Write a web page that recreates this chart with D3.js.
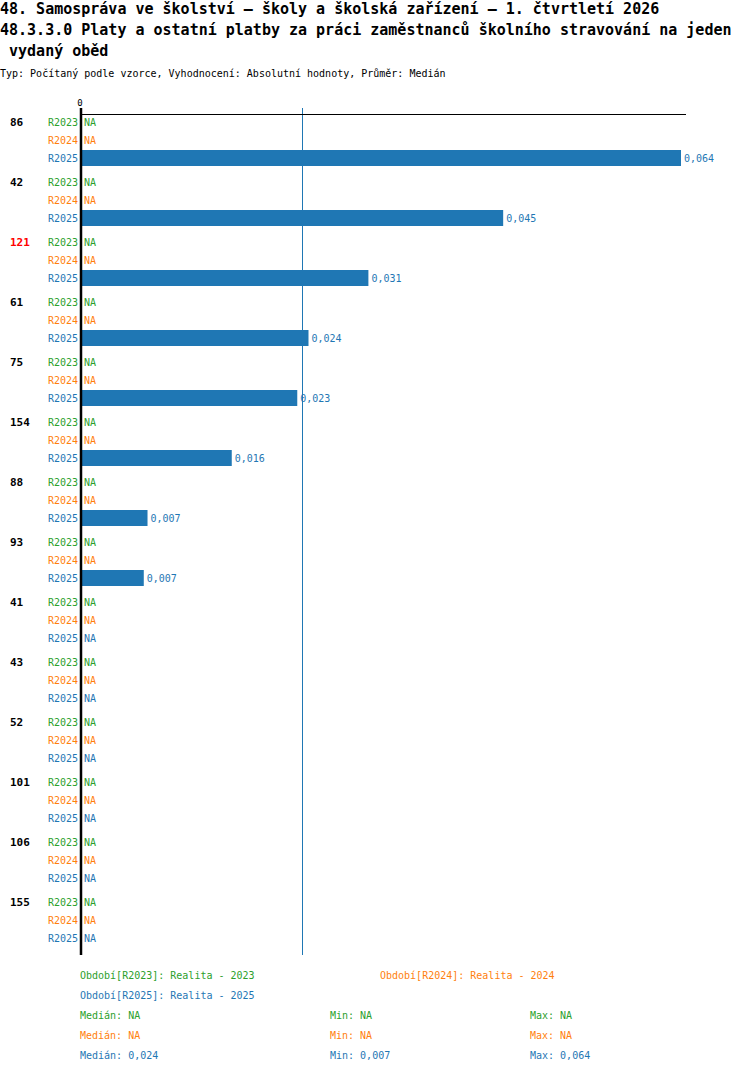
<!DOCTYPE html>
<html>
<head>
<meta charset="utf-8">
<script src="https://cdn.jsdelivr.net/npm/d3@7"></script>
<style>
  body { margin: 0; background: #fff; }
  text { font-family: "DejaVu Sans Mono", monospace; }
</style>
</head>
<body>
<svg id="chart" width="750" height="1074"></svg>
<script>
// data
var groups = ["86", "42", "121", "61", "75", "154", "88", "93", "41", "43", "52", "101", "106", "155"];
var highlighted = ["121"];
var series = ["R2023", "R2024", "R2025"];
var seriesNames = ["Realita - 2023", "Realita - 2024", "Realita - 2025"];
var valuesR2023 = [null, null, null, null, null, null, null, null, null, null, null, null, null, null];
var valuesR2024 = [null, null, null, null, null, null, null, null, null, null, null, null, null, null];
var valuesR2025 = [0.064, 0.045, 0.0306, 0.0242, 0.0230, 0.016, 0.007, 0.0066, null, null, null, null, null, null];
var colors = ["#2ca02c", "#ff7f0e", "#1f77b4"];

var titleLines = [
  "48. Samospráva ve školství – školy a školská zařízení – 1. čtvrtletí 2026",
  "48.3.3.0 Platy a ostatní platby za práci zaměstnanců školního stravování na jeden",
  " vydaný oběd"
];
var subtitle = "Typ: Počítaný podle vzorce, Vyhodnocení: Absolutní hodnoty, Průměr: Medián";

var allValues = [valuesR2023, valuesR2024, valuesR2025];
var loc = d3.formatLocale({decimal: ",", thousands: " ", grouping: [3], currency: ["", ""]});
var fmt = loc.format(".3f");
function txt(v) { return v == null ? "NA" : fmt(v); }

var svg = d3.select("#chart");

// titles
svg.selectAll("text.title").data(titleLines).enter().append("text")
  .attr("class", "title")
  .attr("x", 0)
  .attr("y", function (d, i) { return 9 + i * 21; })
  .attr("dy", "0.35em")
  .style("font-size", "15px")
  .style("font-weight", "bold")
  .style("white-space", "pre")
  .attr("xml:space", "preserve")
  .text(function (d) { return d; });

svg.append("text")
  .attr("x", 0).attr("y", 73).attr("dy", "0.35em")
  .style("font-size", "10px")
  .text(subtitle);

// scales
var max = d3.max(valuesR2025);
var x = d3.scaleLinear().domain([0, max]).range([82, 681]);
var y = d3.scaleBand().domain(groups).range([113, 113 + groups.length * 60]);
var ys = d3.scaleBand().domain(series).range([0, 54]);

// median line
var present = valuesR2025.filter(function (v) { return v != null; });
var med = d3.median(present);
svg.append("line")
  .attr("x1", x(med)).attr("x2", x(med))
  .attr("y1", 108).attr("y2", 955)
  .attr("stroke", "#1f77b4").attr("stroke-width", 1).attr("shape-rendering", "crispEdges");

// top line and zero tick
svg.append("line")
  .attr("x1", 80).attr("x2", 686).attr("y1", 114.5).attr("y2", 114.5)
  .attr("stroke", "#000").attr("stroke-width", 1).attr("shape-rendering", "crispEdges");
svg.append("text")
  .attr("x", x(0) - 2).attr("y", 103).attr("dy", "0.35em")
  .attr("text-anchor", "middle")
  .style("font-size", "9px")
  .text("0");

// groups
var g = svg.selectAll("g.grp").data(groups).enter().append("g")
  .attr("class", "grp")
  .attr("transform", function (d) { return "translate(0," + y(d) + ")"; });

g.append("text")
  .attr("x", 10)
  .attr("y", ys("R2023") + ys.bandwidth() / 2)
  .attr("dy", "0.35em")
  .style("font-size", "11px")
  .style("font-weight", "bold")
  .attr("fill", function (d) { return highlighted.indexOf(d) >= 0 ? "#ff0000" : "#000"; })
  .text(function (d) { return d; });

series.forEach(function (s, si) {
  var vals = allValues[si];
  var cy = ys(s) + ys.bandwidth() / 2;

  g.append("text")
    .attr("x", 78).attr("y", cy).attr("dy", "0.35em")
    .attr("text-anchor", "end")
    .style("font-size", "10px")
    .attr("fill", colors[si])
    .text(s);

  g.filter(function (d, i) { return vals[i] != null; })
    .append("rect")
    .attr("x", x(0))
    .attr("y", cy - 8)
    .attr("height", 16)
    .attr("width", function (d) { return x(vals[groups.indexOf(d)]) - x(0); })
    .attr("fill", colors[si]);

  g.append("text")
    .attr("x", function (d, i) { return vals[i] == null ? 84 : x(vals[i]) + 3; })
    .attr("y", cy).attr("dy", "0.35em")
    .style("font-size", "10px")
    .attr("fill", colors[si])
    .text(function (d, i) { return txt(vals[i]); });
});

// axis line
svg.append("line")
  .attr("x1", 81).attr("x2", 81).attr("y1", 108).attr("y2", 955)
  .attr("stroke", "#000").attr("stroke-width", 2.5);

// legend
var legendPos = [[80, 975], [380, 975], [80, 995]];
series.forEach(function (s, si) {
  svg.append("text")
    .attr("x", legendPos[si][0]).attr("y", legendPos[si][1]).attr("dy", "0.35em")
    .style("font-size", "10px")
    .attr("fill", colors[si])
    .text("Období[" + s + "]: " + seriesNames[si]);
});

// statistics
series.forEach(function (s, si) {
  var vals = allValues[si].filter(function (v) { return v != null; });
  var sy = 1015 + si * 20;
  var stats = [
    ["Medián: ", vals.length ? d3.median(vals) : null, 80],
    ["Min: ", vals.length ? d3.min(vals) : null, 330],
    ["Max: ", vals.length ? d3.max(vals) : null, 530]
  ];
  stats.forEach(function (st) {
    svg.append("text")
      .attr("x", st[2]).attr("y", sy).attr("dy", "0.35em")
      .style("font-size", "10px")
      .attr("fill", colors[si])
      .text(st[0] + txt(st[1]));
  });
});
</script>
</body>
</html>
